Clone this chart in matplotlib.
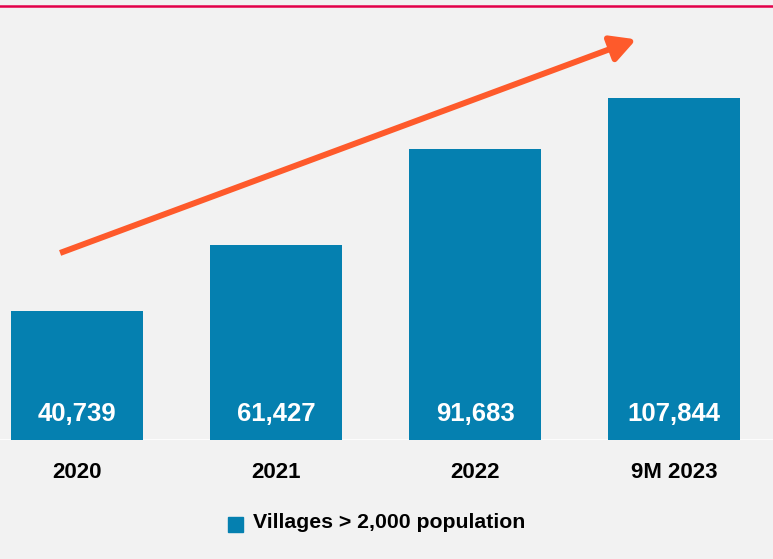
import matplotlib.pyplot as plt

# Villages with more than 2,000 population, by period.
periods = ['2020', '2021', '2022', '9M 2023']
villages = [40739, 61427, 91683, 107844]
value_labels = ['40,739', '61,427', '91,683', '107,844']
series_name = 'Villages > 2,000 population'

bar_color = '#0580b0'
bg = '#f2f2f2'
font = ['Liberation Sans', 'DejaVu Sans']

fig = plt.figure(figsize=(7.73, 5.59), dpi=100, facecolor=bg)
ax = fig.add_axes([0, 119/559, 1, 440/559])
ax.set_facecolor(bg)

x = range(len(periods))
ax.bar(x, villages, width=0.664, color=bar_color, zorder=2)
ax.axhline(0, color='white', lw=1.2, zorder=1)

for i, lab in zip(x, value_labels):
    ax.text(i, 8300, lab, ha='center', va='center', color='white',
            fontsize=18.5, fontweight='bold', family=font, zorder=3)

ax.set_xlim(-0.387, 3.497)
ax.set_ylim(0, 138700)
ax.set_xticks(list(x))
ax.set_xticklabels(periods, fontsize=16, fontweight='bold', family=font)
ax.tick_params(axis='x', length=0, pad=16)
ax.set_yticks([])
for s in ax.spines.values():
    s.set_visible(False)

# growth arrow across the bars
ax.annotate('', xy=(2.81, 126300), xytext=(-0.085, 58960),
            arrowprops=dict(arrowstyle='-|>,head_length=1.5,head_width=0.8',
                            color='#fe5a2b', lw=4.3, shrinkA=0, shrinkB=0,
                            capstyle='butt'),
            zorder=4)

# red rule along the top edge
fig.add_artist(plt.Line2D([0, 1], [1 - 6/559, 1 - 6/559], color='#e3004a', lw=1.8))

# legend
fig.patches.append(plt.Rectangle((228/773, 1 - 532/559), 15/773, 15/559,
                                 transform=fig.transFigure, color=bar_color))
fig.text(253/773, 1 - 523/559, series_name, ha='left', va='center',
         fontsize=15.3, fontweight='bold', family=font)

fig.savefig('out.png', dpi=100, facecolor=bg)
